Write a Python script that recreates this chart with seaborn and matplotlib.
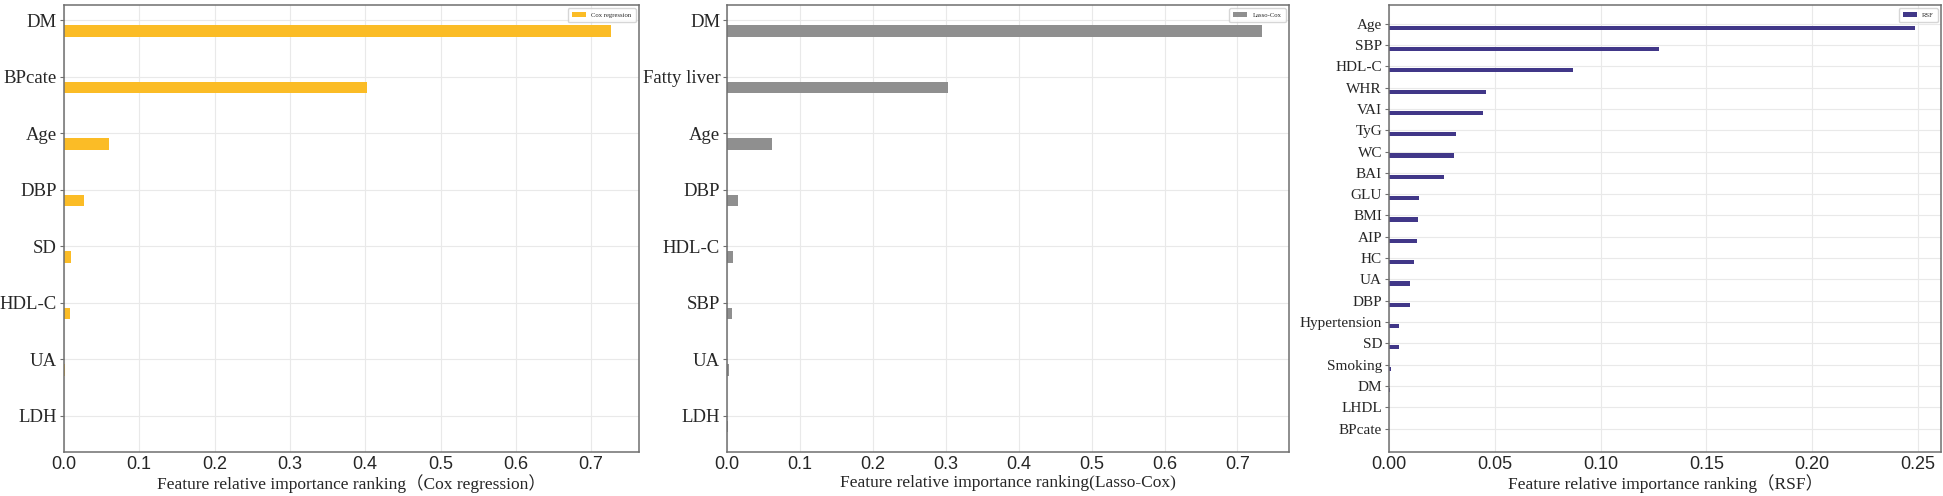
import numpy as np
import seaborn as sns
import matplotlib.pyplot as plt

# --- data ---
cox_features = ['DM', 'BPcate', 'Age', 'DBP', 'SD', 'HDL-C', 'UA', 'LDH']
cox_values = [0.727, 0.403, 0.060, 0.026, 0.010, 0.008, 0.002, 0.0]

lasso_features = ['DM', 'Fatty liver', 'Age', 'DBP', 'HDL-C', 'SBP', 'UA', 'LDH']
lasso_values = [0.734, 0.303, 0.061, 0.015, 0.008, 0.0074, 0.002, 0.001]

rsf_features = ['Age', 'SBP', 'HDL-C', 'WHR', 'VAI', 'TyG', 'WC', 'BAI', 'GLU', 'BMI',
                'AIP', 'HC', 'UA', 'DBP', 'Hypertension', 'SD', 'Smoking', 'DM', 'LHDL', 'BPcate']
rsf_values = [0.2485, 0.1278, 0.0870, 0.0457, 0.0445, 0.0316, 0.0308, 0.0261, 0.0143, 0.0139,
              0.0134, 0.0120, 0.0101, 0.0097, 0.0045, 0.0045, 0.0010, 0.0006, 0.0002, 0.0]

sns.set_style("whitegrid", {
    "axes.edgecolor": "#6f6f6f",
    "grid.color": "#e9e9e9",
    "ytick.left": True,
})
plt.rcParams['font.family'] = ['Liberation Serif', 'Noto Sans CJK SC']
plt.rcParams['axes.linewidth'] = 1.1

SERIF = ['Liberation Serif', 'Noto Sans CJK SC']


def draw(ax, names, vals, color, label, xlabel, ylab_size, top_pad, bottom_pad, tick_fmt, ticks):
    # bars sit just below their tick, like the original figure
    pos = np.arange(len(names)) + 0.19
    sns.barplot(x=vals, y=pos, orient='h', native_scale=True, width=0.2,
                color=color, saturation=1, errorbar=None, label=label,
                linewidth=0, ax=ax)
    ax.set_yticks(np.arange(len(names)))
    ax.set_yticklabels(names, fontsize=ylab_size, family=SERIF)
    ax.set_ylim(len(names) - 1 + bottom_pad, -top_pad)
    ax.set_xticks(ticks)
    ax.set_xticklabels([tick_fmt.format(t) for t in ticks], fontsize=13, family='Liberation Sans')
    ax.tick_params(axis='y', length=3, width=0.8, color='#6f6f6f', pad=2)
    ax.tick_params(axis='x', length=0, pad=3)
    ax.set_xlabel(xlabel, fontsize=12.5, family=SERIF, labelpad=1)
    ax.set_ylabel('')
    ax.grid(True, axis='both')
    ax.legend(loc='upper right', fontsize=4.8, handlelength=2.1, borderpad=0.6)


fig = plt.figure(figsize=(19.43, 4.96), dpi=100)
ax1 = fig.add_axes([0.0329, 0.0887, 0.2959, 0.901])
ax2 = fig.add_axes([0.3742, 0.0887, 0.2892, 0.901])
ax3 = fig.add_axes([0.7149, 0.0887, 0.2841, 0.901])

draw(ax1, cox_features, cox_values, '#fbbc26', 'Cox regression',
     'Feature relative importance ranking（Cox regression）', 13.5, 0.27, 0.64,
     '{:.1f}', np.arange(0, 0.71, 0.1))
draw(ax2, lasso_features, lasso_values, '#8f8f8f', 'Lasso-Cox',
     'Feature relative importance ranking(Lasso-Cox)', 13.5, 0.27, 0.64,
     '{:.1f}', np.arange(0, 0.71, 0.1))
draw(ax3, rsf_features, rsf_values, '#413788', 'RSF',
     'Feature relative importance ranking（RSF）', 11, 0.87, 1.1,
     '{:.2f}', np.arange(0, 0.251, 0.05))

plt.savefig('out.png', dpi=100)
